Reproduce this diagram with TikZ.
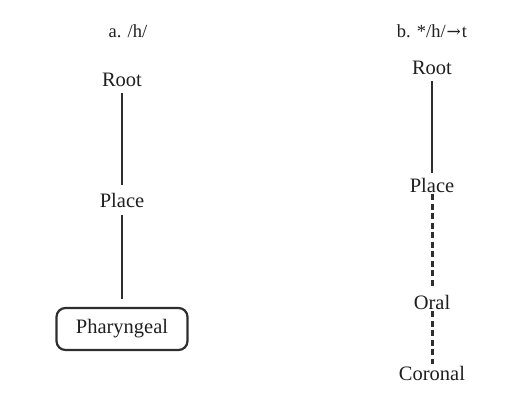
\documentclass[tikz,border=0pt]{standalone}
\usepackage{fontspec}
\setmainfont{Liberation Serif}
\begin{document}
\begin{tikzpicture}[x=1pt,y=-1pt,
  lbl/.style={inner sep=0pt, font=\fontsize{20.5}{22}\selectfont, text=black!88},
  hdr/.style={inner sep=0pt, font=\fontsize{18.5}{20}\selectfont, text=black!88},
  edge/.style={line width=2.5pt, black!82},
  dedge/.style={line width=3pt, black!82, dash pattern=on 6pt off 3.5pt},
  boxed/.style={lbl, draw=black!82, line width=2.2pt, rounded corners=9pt, minimum width=131pt, minimum height=42pt}]
\useasboundingbox (0,0) rectangle (505,394);
\node[hdr] (ha) at (128,31) {a. /h/};
\node[hdr] (hb) at (432,31) {b. */h/\kern1pt{\fontspec{DejaVu Serif}\fontsize{17}{19}\selectfont→}\kern1pt t};
% left tree
\node[lbl] (rootA) at (122,80) {Root};
\node[lbl] (placeA) at (122,200) {Place};
\node[boxed] (phar) at (122,329) {Pharyngeal};
\draw[edge] ([yshift=-6pt]rootA.south) -- ([yshift=8pt]placeA.north);
\draw[edge] ([yshift=-8pt]placeA.south) -- ([yshift=8pt]phar.north);
% right tree
\node[lbl] (rootB) at (432,68) {Root};
\node[lbl] (placeB) at (432,185) {Place};
\node[lbl] (oralB) at (432,302) {Oral};
\node[lbl] (corB) at (432,373) {Coronal};
\draw[edge] ([yshift=-6pt]rootB.south) -- ([yshift=5pt]placeB.north);
\draw[dedge] ([yshift=-2pt]placeB.south) -- ([yshift=7pt]oralB.north);
\draw[dedge] ([yshift=-2pt]oralB.south) -- ([yshift=2pt]corB.north);
\end{tikzpicture}
\end{document}
